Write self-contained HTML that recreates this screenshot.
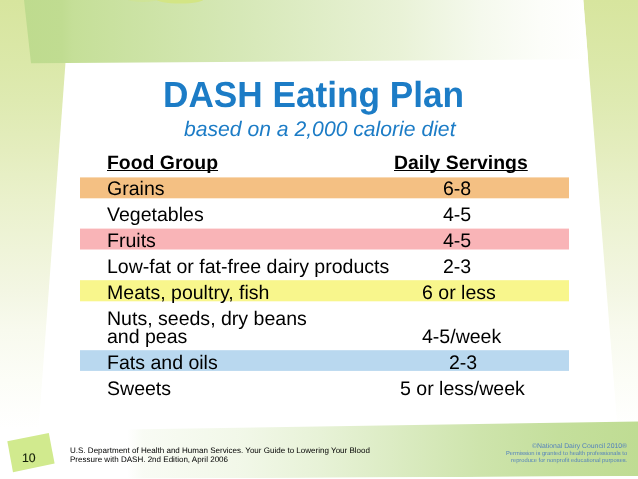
<!DOCTYPE html>
<html lang="en">
<head>
<meta charset="utf-8">
<title>DASH Eating Plan</title>
<style>
html,body{margin:0;padding:0;}
body{width:638px;height:479px;overflow:hidden;background:#fff;font-family:"Liberation Sans",sans-serif;color:#000;}
#txt{position:absolute;left:0;top:0;width:638px;height:479px;filter:blur(0.3px);}
#slide{position:relative;width:638px;height:479px;overflow:hidden;}
#bg{position:absolute;left:0;top:0;width:638px;height:479px;display:block;}
.t{position:absolute;white-space:nowrap;line-height:1;margin:0;padding:0;transform:rotate(0.01deg);transform-origin:0 0;text-rendering:geometricPrecision;}
h1.t{font-size:35.2px;font-weight:bold;color:#1c7cc6;left:163.0px;top:77.7px;transform:rotate(0.01deg) scaleY(1.03);transform-origin:0 29.8px;}
.sub{font-size:21.15px;font-style:italic;color:#1c7cc6;left:183.6px;top:119.0px;}
.hd{font-size:19.42px;font-weight:bold;text-decoration:underline;text-decoration-thickness:1.3px;text-underline-offset:1px;text-decoration-skip-ink:none;top:154.0px;}
.row{font-size:19.55px;}
.foot{font-size:8.04px;left:70.3px;}
.copy{font-size:5.78px;color:#5482bc;right:10.6px;text-align:right;}
.num{font-size:12.3px;left:22.2px;top:452px;color:#15200a;-webkit-text-stroke:0.12px #15200a;}
</style>
</head>
<body>
<div id="slide">
<svg id="bg" width="638" height="479" viewBox="0 0 638 479">
  <defs>
    <linearGradient id="gbase" x1="0" y1="0" x2="0" y2="479" gradientUnits="userSpaceOnUse">
      <stop offset="0.0000" stop-color="#d7e59e"/>
      <stop offset="0.1294" stop-color="#dbe8a9"/>
      <stop offset="0.2088" stop-color="#deeab1"/>
      <stop offset="0.3132" stop-color="#e4edbe"/>
      <stop offset="0.4175" stop-color="#eaf1cc"/>
      <stop offset="0.5219" stop-color="#eff4d9"/>
      <stop offset="0.6054" stop-color="#f3f6e3"/>
      <stop offset="0.6889" stop-color="#f8faee"/>
      <stop offset="0.7933" stop-color="#fcfdf7"/>
      <stop offset="0.8977" stop-color="#ffffff"/>
    </linearGradient>
    <linearGradient id="gtop" x1="0" y1="0" x2="638" y2="0" gradientUnits="userSpaceOnUse">
      <stop offset="0.0376" stop-color="#bedb8e"/>
      <stop offset="0.0972" stop-color="#c0dc91"/>
      <stop offset="0.1144" stop-color="#c5df98"/>
      <stop offset="0.3762" stop-color="#d6e8b7"/>
      <stop offset="0.6270" stop-color="#e9f2d7"/>
      <stop offset="0.7524" stop-color="#f5f9ed"/>
      <stop offset="0.8464" stop-color="#fcfdf9"/>
      <stop offset="0.9216" stop-color="#ffffff"/>
    </linearGradient>
    <linearGradient id="gband" x1="0" y1="0" x2="638" y2="0" gradientUnits="userSpaceOnUse">
      <stop offset="0.1991" stop-color="#bfdc93" stop-opacity="0.0"/>
      <stop offset="0.2241" stop-color="#bfdc93" stop-opacity="0.1"/>
      <stop offset="0.3762" stop-color="#bfdc93" stop-opacity="0.21"/>
      <stop offset="0.5016" stop-color="#bfdc93" stop-opacity="0.37"/>
      <stop offset="0.5956" stop-color="#bfdc93" stop-opacity="0.52"/>
      <stop offset="0.7524" stop-color="#bfdc93" stop-opacity="0.77"/>
      <stop offset="0.8777" stop-color="#bfdc93" stop-opacity="0.92"/>
      <stop offset="1.0000" stop-color="#bfdc93" stop-opacity="1.0"/>
    </linearGradient>
  </defs>
  <rect x="0" y="0" width="638" height="479" fill="url(#gbase)"/>
  <polygon points="70.1,0 583.3,0 621.6,479 34.9,479" fill="#ffffff"/>
  <polygon points="24,0 583.3,0 588,59.2 31,63.3" fill="url(#gtop)"/>
  <ellipse cx="180" cy="-1" rx="24" ry="4.5" fill="#d3e585"/>
  <ellipse cx="143" cy="-1" rx="16" ry="3" fill="#d3e585" opacity="0.4"/>
  <polygon points="126,429.5 638,421.5 638,476 127,479" fill="url(#gband)"/>
  <polygon points="120,478.6 638,476 638,479 120,479" fill="#ffffff"/>
  <polygon points="7.3,441.3 48.8,433.1 54.6,463.4 13,472.2" fill="#d1ea8e"/>
  <rect x="80" y="177.4" width="489" height="20.9" fill="#f4c083"/>
  <rect x="80" y="228.6" width="489" height="20.9" fill="#f9b4b7"/>
  <rect x="80" y="280.2" width="489" height="21.1" fill="#f8f68c"/>
  <rect x="80" y="350.2" width="489" height="20.7" fill="#b9d8ef"/>
</svg>


<div id="txt">
<h1 class="t">DASH Eating Plan</h1>
<div class="t sub">based on a 2,000 calorie diet</div>

<div class="t hd" style="left:107.1px;">Food Group</div>
<div class="t hd" style="left:394.4px;">Daily Servings</div>

<div class="t row" style="left:107.2px;top:179.8px;">Grains</div>
<div class="t row" style="left:443.0px;top:179.8px;">6-8</div>
<div class="t row" style="left:107.2px;top:205.8px;">Vegetables</div>
<div class="t row" style="left:443.0px;top:205.8px;">4-5</div>
<div class="t row" style="left:107.2px;top:231.8px;">Fruits</div>
<div class="t row" style="left:443.0px;top:231.8px;">4-5</div>
<div class="t row" style="left:107.2px;top:257.8px;">Low-fat or fat-free dairy products</div>
<div class="t row" style="left:443.0px;top:257.8px;">2-3</div>
<div class="t row" style="left:107.2px;top:283.8px;">Meats, poultry, fish</div>
<div class="t row" style="left:421.5px;top:283.8px;">6 or less</div>
<div class="t row" style="left:107.2px;top:309.8px;">Nuts, seeds, dry beans</div>
<div class="t row" style="left:107.2px;top:327.8px;">and peas</div>
<div class="t row" style="left:422.0px;top:327.8px;">4-5/week</div>
<div class="t row" style="left:107.2px;top:353.8px;">Fats and oils</div>
<div class="t row" style="left:448.8px;top:353.8px;">2-3</div>
<div class="t row" style="left:107.2px;top:379.8px;">Sweets</div>
<div class="t row" style="left:400.3px;top:379.8px;">5 or less/week</div>

<div class="t num">10</div>
<div class="t foot" style="top:447px;">U.S. Department of Health and Human Services. Your Guide to Lowering Your Blood</div>
<div class="t foot" style="top:456px;">Pressure with DASH. 2nd Edition, April 2006</div>
<div class="t copy" style="top:443.7px;font-size:6.86px;">©National Dairy Council 2010®</div>
<div class="t copy" style="top:452.2px;">Permission is granted to health professionals to</div>
<div class="t copy" style="top:459.1px;">reproduce for nonprofit educational purposes.</div>
</div>
</div>
</body>
</html>
